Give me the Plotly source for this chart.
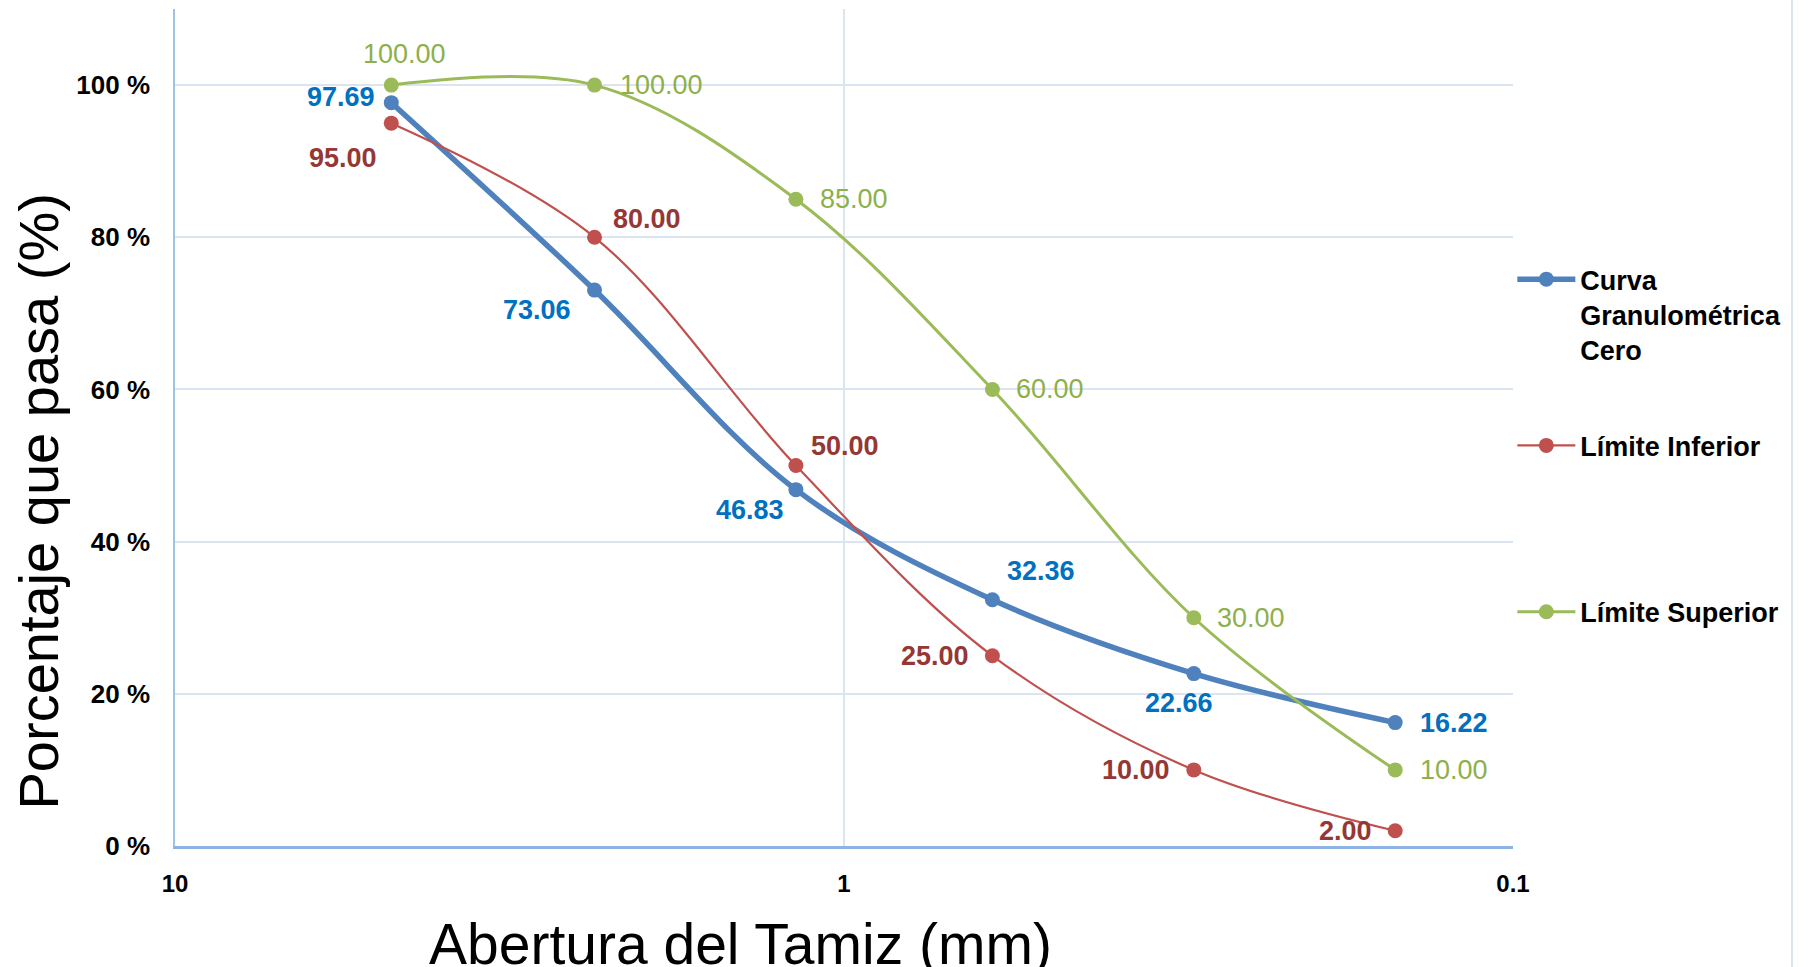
import numpy as np
import plotly.graph_objects as go

# ---- data ----
abertura_mm = [4.75, 2.36, 1.18, 0.6, 0.3, 0.15]
curva_cero = [97.69, 73.06, 46.83, 32.36, 22.66, 16.22]
limite_inferior = [95.00, 80.00, 50.00, 25.00, 10.00, 2.00]
limite_superior = [100.00, 100.00, 85.00, 60.00, 30.00, 10.00]
x_tick_vals = [10, 1, 0.1]
x_tick_text = ["10", "1", "0.1"]
y_tick_vals = [0, 20, 40, 60, 80, 100]
y_tick_text = [f"{v} %" for v in y_tick_vals]

series_names = ["Curva<br>Granulométrica<br>Cero", "Límite Inferior<br> <br> ", "Límite Superior"]

# ---- styles ----
FONT = "Liberation Sans, Arial, sans-serif"
line_colors = ["#4f81bd", "#c0504d", "#9bbb59"]
text_colors = ["#0070c0", "#953735", "#8db04a"]
line_widths = [5.5, 2.2, 3]
label_bold = [True, True, False]
# label offsets in pixels (xshift, yshift) per point
offsets = [
    [(-50, 6), (-58, -20), (-46, -20), (49, 29), (-15, -29), (59, 0)],
    [(-48, -35), (52, 18), (49, 20), (-57, 0), (-58, 0), (-50, 0)],
    [(13, 31), (67, 0), (58, 0), (58, 0), (57, 0), (59, 0)],
]

fig = go.Figure()
all_series = [curva_cero, limite_inferior, limite_superior]
for i, ys in enumerate(all_series):
    fig.add_trace(go.Scatter(
        x=abertura_mm, y=ys, mode="lines+markers",
        name=series_names[i], legendgroup=f"g{i}",
        line=dict(color=line_colors[i], width=line_widths[i], shape="spline", smoothing=1.0),
        marker=dict(color=line_colors[i], size=15),
    ))

annotations = []
for i, ys in enumerate(all_series):
    for j, (xv, yv) in enumerate(zip(abertura_mm, ys)):
        txt = f"{yv:.2f}"
        if label_bold[i]:
            txt = f"<b>{txt}</b>"
        annotations.append(dict(
            x=np.log10(xv), y=yv, xref="x", yref="y", text=txt, showarrow=False,
            xshift=offsets[i][j][0], yshift=offsets[i][j][1],
            font=dict(family=FONT, size=27, color=text_colors[i]),
        ))

# axis titles
annotations.append(dict(
    x=-0.102, y=0.411, xref="paper", yref="paper", text="Porcentaje que pasa (%)",
    textangle=-90, showarrow=False, xanchor="center", yanchor="middle",
    font=dict(family=FONT, size=56, color="#000000"),
))
annotations.append(dict(
    x=0.423, y=-0.076, xref="paper", yref="paper", text="Abertura del Tamiz (mm)",
    showarrow=False, xanchor="center", yanchor="top",
    font=dict(family=FONT, size=57, color="#000000"),
))

fig.update_layout(
    width=1809, height=967,
    margin=dict(l=175, r=296, t=9, b=121),
    paper_bgcolor="white", plot_bgcolor="white",
    font=dict(family=FONT, color="#000000"),
    annotations=annotations,
    showlegend=True,
    legend=dict(
        x=0.9995, xanchor="left", y=0.706, yanchor="top",
        font=dict(family=FONT, size=27, color="#000000", weight="bold"),
        valign="top", tracegroupgap=58, itemwidth=58,
        bgcolor="rgba(0,0,0,0)",
    ),
    shapes=[dict(type="line", xref="paper", yref="paper", x0=1.2085, x1=1.2085, y0=-0.2, y1=1.02,
                 line=dict(color="#dbe5f1", width=2))],
)

fig.update_xaxes(
    type="log", range=[1, -1],
    tickvals=x_tick_vals, ticktext=x_tick_text,
    showgrid=True, gridcolor="#dbe5f1", gridwidth=1.5,
    showline=True, linecolor="#8db3e2", linewidth=3,
    ticks="outside", ticklen=14, tickcolor="rgba(0,0,0,0)",
    tickfont=dict(family=FONT, size=24, color="#000000", weight="bold"),
    zeroline=False,
)
fig.update_yaxes(
    range=[0, 110], tickvals=y_tick_vals, ticktext=y_tick_text,
    showgrid=True, gridcolor="#dbe5f1", gridwidth=1.5,
    showline=True, linecolor="#9dc3e6", linewidth=1.5,
    ticks="outside", ticklen=18, tickcolor="rgba(0,0,0,0)",
    tickfont=dict(family=FONT, size=26, color="#000000", weight="bold"),
    zeroline=False,
)

fig.write_html("out.html")
